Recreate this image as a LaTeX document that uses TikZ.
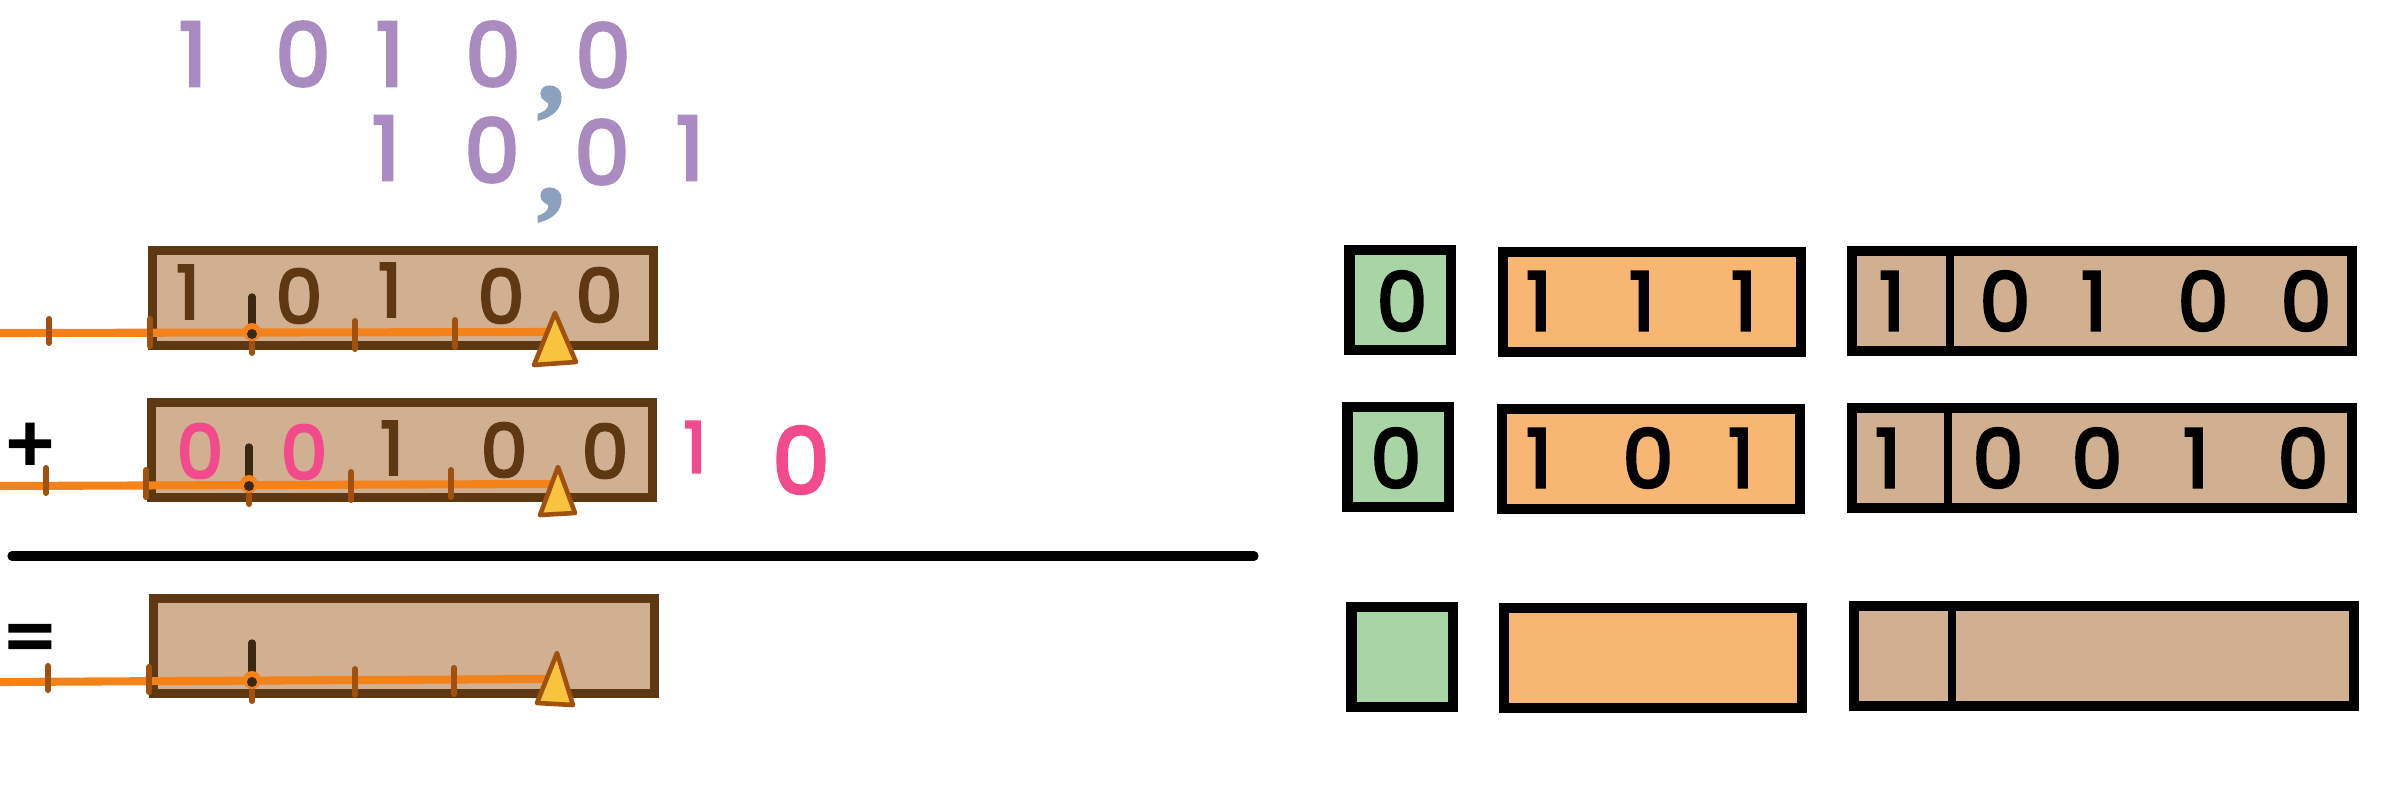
\documentclass[tikz,border=0pt]{standalone}
\usepackage{fontspec}
\setmainfont{Poppins}
\newfontfamily\digfont{Poppins}[FakeBold=3.5]
\newfontfamily\commafont{Liberation Serif}[FakeBold=2]
\usetikzlibrary{shapes.geometric}
\definecolor{mytan}{HTML}{D1AF91}
\definecolor{dbrown}{HTML}{5E3812}
\definecolor{oline}{HTML}{F4821A}
\definecolor{tickc}{HTML}{A0500F}
\definecolor{trifill}{HTML}{F8C440}
\definecolor{pinkd}{HTML}{F24A8C}
\definecolor{purp}{HTML}{A98BBF}
\definecolor{commac}{HTML}{8BA1BD}
\definecolor{greenb}{HTML}{A9D5A6}
\definecolor{orangeb}{HTML}{F7B672}
\definecolor{blacktick}{HTML}{3A2810}
\begin{document}
\begin{tikzpicture}[x=0.01cm,y=-0.01cm,
  leftbox/.style={draw=dbrown, fill=mytan, line width=2.6pt, minimum width=5.01cm, minimum height=0.95cm, inner sep=0pt},
  rbox/.style={draw=black, line width=2.85pt, inner sep=0pt, minimum height=1.0cm},
  gbox/.style={rbox, fill=greenb, minimum width=1.01cm},
  obox/.style={rbox, fill=orangeb, minimum width=2.98cm},
  tbox/.style={rbox, fill=mytan, minimum width=5.0cm},
  divider/.style={draw=black, line width=2.3pt},
  pdig/.style={text=purp, font=\fontsize{25}{25}\selectfont\digfont, inner sep=0pt},
  bdig/.style={text=dbrown, font=\fontsize{21}{21}\selectfont\digfont, inner sep=0pt},
  kdig/.style={text=pinkd, font=\fontsize{21}{21}\selectfont\digfont, inner sep=0pt},
  rdig/.style={text=black, font=\fontsize{23}{23}\selectfont\digfont, inner sep=0pt},
  commanode/.style={text=commac, font=\fontsize{31}{31}\selectfont\commafont\bfseries, inner sep=0pt},
  sym/.style={text=black, font=\fontsize{22}{22}\selectfont\digfont, inner sep=0pt},
  numline/.style={draw=oline, line width=2.3pt},
  tickmark/.style={draw=tickc, line width=1.7pt, line cap=round},
  blackmark/.style={draw=blacktick, line width=2.1pt, line cap=round},
  odot/.style={circle, fill=oline, minimum size=0.18cm, inner sep=0pt},
  ddot/.style={circle, fill=blacktick, minimum size=0.1cm, inner sep=0pt},
  tri/.style={draw=tickc, fill=trifill, line width=1.3pt, line join=round},
  rule/.style={draw=black, line width=2.6pt, line cap=round}]
\useasboundingbox (0,0) rectangle (2400,800);

% ---------- purple numbers on top ----------
\node[pdig] (p11) at (193,54) {1};
\node[pdig] (p12) at (303,54) {0};
\node[pdig] (p13) at (390,54) {1};
\node[pdig] (p14) at (493,54) {0};
\node[pdig] (p15) at (603,55) {0};
\node[commanode] (c1) at (551,103) {,};
\node[pdig] (p21) at (386,148) {1};
\node[pdig] (p22) at (492,150) {0};
\node[commanode] (c2) at (551,205) {,};
\node[pdig] (p23) at (602,152) {0};
\node[pdig] (p24) at (690,148) {1};

% ---------- left boxes ----------
\node[leftbox] (b1) at (403,298) {};
\node[leftbox] (b2) at (402,450) {};
\node[leftbox] (b3) at (404,646) {};

% row 1 digits
\node[bdig] (a1) at (188,292) {1};
\node[bdig] (a2) at (299,296) {0};
\node[bdig] (a3) at (390,290) {1};
\node[bdig] (a4) at (501,296) {0};
\node[bdig] (a5) at (599,295) {0};

% row 2 digits
\node[sym] (plus) at (30,448) {+};
\node[kdig] (e1) at (200,451) {0};
\node[kdig] (e2) at (304,452) {0};
\node[bdig] (e3) at (392,448) {1};
\node[bdig] (e4) at (504,450) {0};
\node[bdig] (e5) at (605,451) {0};
\node[kdig, font=\fontsize{20}{20}\selectfont\digfont] (e6) at (695,447) {1};
\node[kdig, font=\fontsize{26}{26}\selectfont\digfont] (e7) at (801,460) {0};

% rule
\coordinate (r1) at (12,556);
\coordinate (r2) at (1254,556);
\draw[rule] (r1) -- (r2);

% row 3
\node[sym] (eq) at (30,645) {=};

% ---------- number lines ----------
% line 1
\coordinate (l1a) at (0,333);
\coordinate (l1b) at (548,332);
\draw[numline] (l1a) -- (l1b);
\draw[tickmark] (49,319) -- (49,343);
\draw[tickmark] (150,319) -- (150,346);
\draw[tickmark] (355,321) -- (355,349);
\draw[tickmark] (455,320) -- (455,347);
\draw[blackmark] (252,297) -- (252,333);
\draw[tickmark] (252,333) -- (252,353);
\node[odot] (dot1) at (252,332) {};
\node[ddot] (dd1) at (252,334) {};
\draw[tri] (555,313) -- (576,362) -- (534,365) -- cycle;

% line 2
\coordinate (l2a) at (0,486);
\coordinate (l2b) at (550,484);
\draw[numline] (l2a) -- (l2b);
\draw[tickmark] (46,468) -- (46,493);
\draw[tickmark] (146,470) -- (146,497);
\draw[tickmark] (351,472) -- (351,500);
\draw[tickmark] (451,470) -- (451,497);
\draw[blackmark] (249,447) -- (249,485);
\draw[tickmark] (249,485) -- (249,504);
\node[odot] (dot2) at (249,484) {};
\node[ddot] (dd2) at (249,486) {};
\draw[tri] (558,467) -- (575,513) -- (540,515) -- cycle;

% line 3
\coordinate (l3a) at (0,682);
\coordinate (l3b) at (550,679);
\draw[numline] (l3a) -- (l3b);
\draw[tickmark] (48,666) -- (48,690);
\draw[tickmark] (149,667) -- (149,692);
\draw[tickmark] (355,669) -- (355,695);
\draw[tickmark] (454,668) -- (454,694);
\draw[blackmark] (252,643) -- (252,681);
\draw[tickmark] (252,681) -- (252,701);
\node[odot] (dot3) at (252,680) {};
\node[ddot] (dd3) at (252,682) {};
\draw[tri] (557,653) -- (573,705) -- (537,703) -- cycle;

% ---------- right side ----------
\node[gbox] (g1) at (1400,300) {};
\node[obox] (o1) at (1652,302) {};
\node[tbox] (t1) at (2102,301) {};
\draw[divider] (1950,250) -- (1950,352);

\node[gbox] (g2) at (1398,457) {};
\node[obox] (o2) at (1651,459) {};
\node[tbox] (t2) at (2102,458) {};
\draw[divider] (1948,407) -- (1948,508);

\node[gbox] (g3) at (1402,657) {};
\node[obox] (o3) at (1653,658) {};
\node[tbox] (t3) at (2104,656) {};
\draw[divider] (1952,605) -- (1952,707);

% right digits row 1
\node[rdig] (x10) at (1402,301) {0};
\node[rdig] (x11) at (1539,301) {1};
\node[rdig] (x12) at (1642,301) {1};
\node[rdig] (x13) at (1744,301) {1};
\node[rdig] (x14) at (1892,301) {1};
\node[rdig] (x15) at (2005,301) {0};
\node[rdig] (x16) at (2094,301) {1};
\node[rdig] (x17) at (2203,301) {0};
\node[rdig] (x18) at (2306,301) {0};

% right digits row 2
\node[rdig] (y10) at (1396,458) {0};
\node[rdig] (y11) at (1539,458) {1};
\node[rdig] (y12) at (1648,458) {0};
\node[rdig] (y13) at (1741,458) {1};
\node[rdig] (y14) at (1888,458) {1};
\node[rdig] (y15) at (1998,458) {0};
\node[rdig] (y16) at (2097,458) {0};
\node[rdig] (y17) at (2196,458) {1};
\node[rdig] (y18) at (2303,458) {0};
\end{tikzpicture}
\end{document}
